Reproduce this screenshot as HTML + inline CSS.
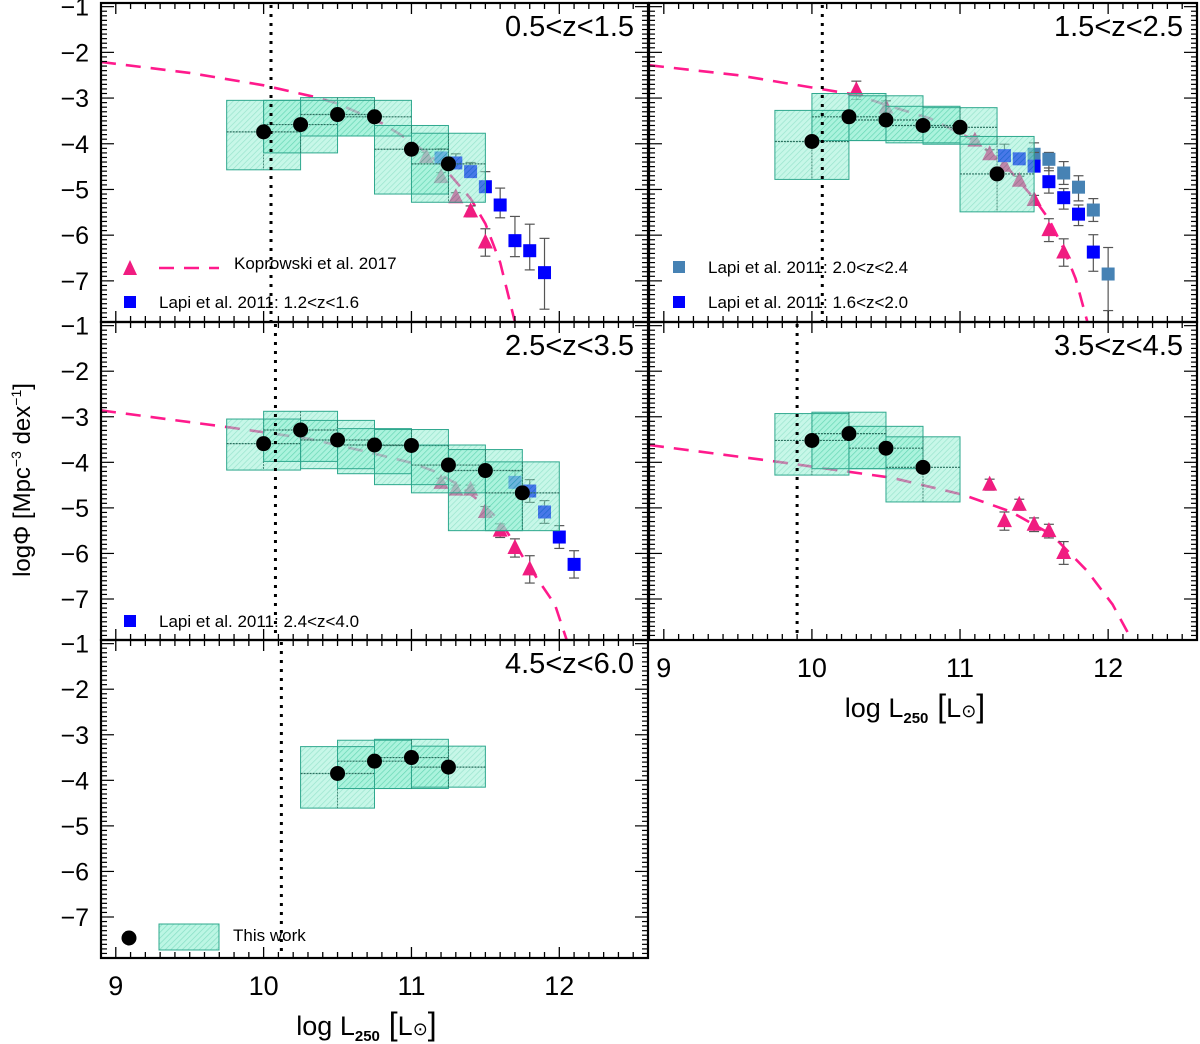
<!DOCTYPE html>
<html><head><meta charset="utf-8"><style>
html,body{margin:0;padding:0;background:#fff;}
svg{display:block;font-family:"Liberation Sans","DejaVu Sans",sans-serif;}
</style></head><body>
<svg id="chart" width="1200" height="1044" viewBox="0 0 1200 1044" xmlns="http://www.w3.org/2000/svg">
<defs>
<pattern id="hatch" patternUnits="userSpaceOnUse" width="4" height="4" patternTransform="rotate(45)">
<rect width="4" height="4" fill="#8ff0d2"/>
<line x1="0" y1="0" x2="0" y2="4" stroke="#35c99c" stroke-width="1.4"/>
</pattern>
</defs>
<g id="root"></g>
</svg>
<script>
// ===== data =====
const xTicks = [9,10,11,12];
const yTicks = [-1,-2,-3,-4,-5,-6,-7];
const boxCentersP1 = [10,10.25,10.5,10.75,11,11.25];
const circlesP1 = [-3.74,-3.58,-3.36,-3.41,-4.12,-4.44];
const boxHiP1 = [-3.05,-3.05,-2.99,-3.05,-3.60,-3.77];
const boxLoP1 = [-4.57,-4.20,-3.83,-3.83,-5.10,-5.28];
const triXP1 = [11.1,11.2,11.3,11.4,11.5];
const triYP1 = [-4.29,-4.73,-5.17,-5.48,-6.16];
const triErrP1 = [0.1,0.1,0.1,0.12,0.3];
const sqXP1 = [11.2,11.3,11.4,11.5,11.6,11.7,11.8,11.9];
const sqYP1 = [-4.31,-4.42,-4.61,-4.94,-5.34,-6.12,-6.34,-6.82];
const sqUpP1 = [0.2,0.2,0.2,0.33,0.37,0.53,0.58,0.75];
const sqDnP1 = [0.1,0.1,0.1,0.1,0.28,0.35,0.42,0.8];
const kopXP1 = [8.9,9.5,10.0,10.35,10.5,10.8,11.0,11.2,11.4,11.5,11.6,11.7];
const kopYP1 = [-2.21,-2.45,-2.72,-2.98,-3.12,-3.55,-3.95,-4.45,-5.2,-5.75,-6.6,-7.9];

const boxCentersP2 = [10,10.25,10.5,10.75,11,11.25];
const circlesP2 = [-3.95,-3.41,-3.48,-3.60,-3.64,-4.66];
const boxHiP2 = [-3.27,-2.90,-2.95,-3.18,-3.21,-3.84];
const boxLoP2 = [-4.78,-3.93,-3.93,-3.98,-4.01,-5.49];
const triXP2 = [10.3,10.5,11.1,11.2,11.3,11.4,11.5,11.6,11.7];
const triYP2 = [-2.83,-3.21,-3.93,-4.23,-4.48,-4.81,-5.23,-5.89,-6.38];
const triErrP2 = [0.2,0.15,0.1,0.1,0.1,0.1,0.1,0.25,0.3];
const sqXP2a = [11.5,11.6,11.7,11.8,11.9,12.0];
const sqYP2a = [-4.23,-4.34,-4.64,-4.95,-5.45,-6.85];
const sqUpP2a = [0.25,0.15,0.25,0.25,0.25,0.58];
const sqDnP2a = [0.25,0.25,0.25,0.3,0.25,0.8];
const sqXP2b = [11.3,11.4,11.5,11.6,11.7,11.8,11.9];
const sqYP2b = [-4.26,-4.33,-4.49,-4.83,-5.18,-5.54,-6.37];
const sqUpP2b = [0.25,0.1,0.3,0.3,0.2,0.2,0.38];
const sqDnP2b = [0.1,0.1,0.1,0.25,0.25,0.25,0.42];
const kopXP2 = [8.9,9.5,10.0,10.3,10.5,10.8,11.1,11.3,11.5,11.6,11.7,11.78,11.86];
const kopYP2 = [-2.28,-2.5,-2.77,-2.93,-3.15,-3.45,-3.93,-4.45,-5.2,-5.65,-6.3,-6.95,-7.9];

const boxCentersP3 = [10,10.25,10.5,10.75,11,11.25,11.5,11.75];
const circlesP3 = [-3.59,-3.29,-3.51,-3.62,-3.63,-4.06,-4.18,-4.67];
const boxHiP3 = [-3.05,-2.88,-3.08,-3.26,-3.28,-3.62,-3.72,-3.99];
const boxLoP3 = [-4.17,-3.98,-4.14,-4.25,-4.49,-4.67,-5.50,-5.50];
const triXP3 = [11.2,11.3,11.4,11.5,11.6,11.7,11.8];
const triYP3 = [-4.45,-4.6,-4.6,-5.09,-5.5,-5.88,-6.35];
const triErrP3 = [0.1,0.1,0.1,0.12,0.15,0.2,0.3];
const sqXP3 = [11.7,11.8,11.9,12.0,12.1];
const sqYP3 = [-4.44,-4.63,-5.09,-5.64,-6.24];
const sqUpP3 = [0.25,0.25,0.25,0.25,0.3];
const sqDnP3 = [0.1,0.25,0.25,0.25,0.3];
const kopXP3 = [8.9,9.76,10.3,10.66,11.0,11.15,11.31,11.46,11.6,11.8,11.97,12.05];
const kopYP3 = [-2.86,-3.23,-3.48,-3.74,-4.01,-4.19,-4.48,-4.85,-5.29,-6.31,-7.12,-7.9];

const boxCentersP4 = [10,10.25,10.5,10.75];
const circlesP4 = [-3.52,-3.37,-3.69,-4.11];
const boxHiP4 = [-2.93,-2.90,-3.21,-3.44];
const boxLoP4 = [-4.28,-4.14,-4.14,-4.87];
const triXP4 = [11.2,11.3,11.4,11.5,11.6,11.7];
const triYP4 = [-4.49,-5.29,-4.93,-5.37,-5.51,-5.99];
const triErrP4 = [0.12,0.2,0.12,0.15,0.15,0.25];
const kopXP4 = [8.9,9.75,10.54,11.02,11.34,11.62,11.86,12.03,12.16];
const kopYP4 = [-3.62,-3.98,-4.34,-4.71,-5.08,-5.59,-6.39,-7.12,-7.9];

const boxCentersP5 = [10.5,10.75,11,11.25];
const circlesP5 = [-3.85,-3.58,-3.50,-3.71];
const boxHiP5 = [-3.26,-3.12,-3.10,-3.25];
const boxLoP5 = [-4.61,-4.18,-4.18,-4.15];

const limitX = [10.05,10.07,10.08,9.9,10.12];
const panelTitles = ["0.5<z<1.5","1.5<z<2.5","2.5<z<3.5","3.5<z<4.5","4.5<z<6.0"];

// ===== drawing =====
const NS = "http://www.w3.org/2000/svg";
const root = document.getElementById('root');
function mk(tag, attrs, parent){
  const e = document.createElementNS(NS, tag);
  for (const k in attrs) e.setAttribute(k, attrs[k]);
  (parent||root).appendChild(e);
  return e;
}
const XMIN=8.9, XMAX=12.6, YMIN=-7.9, YMAX=-0.92;
const geoms = [
  {l:101,r:648,t:3,b:322},
  {l:649,r:1197,t:3,b:322},
  {l:101,r:648,t:322,b:640},
  {l:649,r:1197,t:322,b:640},
  {l:101,r:648,t:640,b:958}
];
function sx(g,v){return g.l+(v-XMIN)/(XMAX-XMIN)*(g.r-g.l);}
function sy(g,v){return g.t+(YMAX-v)/(YMAX-YMIN)*(g.b-g.t);}

function kop(g, xs, ys, G){
  let d='';
  xs.forEach((x,i)=>{d+=(i?'L':'M')+sx(g,x).toFixed(1)+' '+Math.min(sy(g,ys[i]),g.b).toFixed(1)+' ';});
  const p = mk('path',{d:d,fill:'none',stroke:'#ff1a8c','stroke-width':2.6,'stroke-dasharray':'15,10'},G);
  
  
}
function errbar(g,x,y,up,dn,G){
  const X=sx(g,x);
  mk('line',{x1:X,x2:X,y1:sy(g,y+up),y2:sy(g,y-dn),stroke:'#555','stroke-width':1.2},G);
  mk('line',{x1:X-5,x2:X+5,y1:sy(g,y+up),y2:sy(g,y+up),stroke:'#555','stroke-width':1.2},G);
  mk('line',{x1:X-5,x2:X+5,y1:sy(g,y-dn),y2:sy(g,y-dn),stroke:'#555','stroke-width':1.2},G);
}
function tris(g,xs,ys,errs,G){
  xs.forEach((x,i)=>{
    errbar(g,x,ys[i],errs[i],errs[i],G);
    const X=sx(g,x),Y=sy(g,ys[i]);
    const t = mk('polygon',{points:`${X},${Y-9} ${X-7.5},${Y+6} ${X+7.5},${Y+6}`,fill:'#f01c80'},G);
    
    
  });
}
function sqs(g,xs,ys,up,dn,color,name,G){
  xs.forEach((x,i)=>{
    errbar(g,x,ys[i],up[i],dn[i],G);
    const X=sx(g,x),Y=sy(g,ys[i]);
    const s = mk('rect',{x:X-6.5,y:Y-6.5,width:13,height:13,fill:color},G);
    
    
  });
}
function boxes(g,cs,hi,lo,vals,G){
  cs.forEach((c,i)=>{
    const b = mk('rect',{x:sx(g,c-0.25),y:sy(g,hi[i]),width:sx(g,c+0.25)-sx(g,c-0.25),height:sy(g,lo[i])-sy(g,hi[i]),fill:'url(#hatch)','fill-opacity':0.5},G);
    
    
  });
  cs.forEach((c,i)=>{
    mk('rect',{x:sx(g,c-0.25),y:sy(g,hi[i]),width:sx(g,c+0.25)-sx(g,c-0.25),height:sy(g,lo[i])-sy(g,hi[i]),fill:'none',stroke:'#2fa88e','stroke-width':1},G);
    mk('line',{x1:sx(g,c-0.25),x2:sx(g,c+0.25),y1:sy(g,vals[i]),y2:sy(g,vals[i]),stroke:'#2a6f5e','stroke-width':1.2,'stroke-dasharray':'2,1'},G);
    mk('line',{x1:sx(g,c),x2:sx(g,c),y1:sy(g,hi[i]),y2:sy(g,lo[i]),stroke:'#2a6f5e','stroke-width':0.8,'stroke-dasharray':'2,1'},G);
  });
}
function circles(g,cs,vals,G){
  cs.forEach((c,i)=>{
    const e = mk('circle',{cx:sx(g,c),cy:sy(g,vals[i]),r:7.5,fill:'#000'},G);
    
    
  });
}
function frame(g,i,G){
  mk('rect',{x:g.l,y:g.t,width:g.r-g.l,height:g.b-g.t,fill:'none',stroke:'#000','stroke-width':2.2},G);
  for(let v=9;v<=12.6;v=Math.round((v+0.1)*10)/10){
    const X=sx(g,v); const major=Math.abs(v-Math.round(v))<1e-6;
    const L=major?11:6;
    mk('line',{x1:X,x2:X,y1:g.b,y2:g.b-L,stroke:'#000','stroke-width':1.3},G);
    mk('line',{x1:X,x2:X,y1:g.t,y2:g.t+L,stroke:'#000','stroke-width':1.3},G);
  }
  for(let v=-7.9;v<=-0.92;v=Math.round((v+0.1)*10)/10){
    const Y=sy(g,v); const major=Math.abs(v-Math.round(v))<1e-6;
    const L=major?13:6;
    mk('line',{x1:g.l,x2:g.l+L,y1:Y,y2:Y,stroke:'#000','stroke-width':1.2},G);
    mk('line',{x1:g.r,x2:g.r-L,y1:Y,y2:Y,stroke:'#000','stroke-width':1.2},G);
  }
  const lx=sx(g,limitX[i]);
  const d = mk('line',{x1:lx,x2:lx,y1:g.t+2,y2:g.b,stroke:'#000','stroke-width':3,'stroke-dasharray':'3,6'},G);
  
  
  const t = mk('text',{x:g.r-14,y:g.t+33,'text-anchor':'end','font-size':29,fill:'#000'},G);
  t.textContent = panelTitles[i];
  
  
}
function yLabels(g,G){
  yTicks.forEach(v=>{
    const t = mk('text',{x:g.l-12,y:sy(g,v)+9,'text-anchor':'end','font-size':25,fill:'#000'},G);
    t.textContent = '\u2212'+Math.abs(v);
    
    
  });
}
function xLabels(g,G){
  xTicks.forEach(v=>{
    const t = mk('text',{x:sx(g,v),y:g.b+37,'text-anchor':'middle','font-size':27,fill:'#000'},G);
    t.textContent = v;
    
    
  });
  const t = mk('text',{x:(g.l+g.r)/2-8,y:g.b+77,'text-anchor':'middle','font-size':27,fill:'#000'},G);
  t.innerHTML = 'log  L<tspan font-size="15" font-weight="bold" dy="6">250</tspan><tspan dy="-6" font-size="32"> [</tspan>L<tspan font-size="18">\u2299</tspan><tspan font-size="32">]</tspan>';
  
  
}
function legendText(x,y,s,G){
  const t = mk('text',{x:x,y:y,'font-size':17,fill:'#000'},G);
  t.textContent=s;
  
  
}
function panel(i){
  const G = mk('g',{});
  
  
  return G;
}

// Panel 1
let g=geoms[0], G=panel(0);
kop(g,kopXP1,kopYP1,G);
tris(g,triXP1,triYP1,triErrP1,G);
sqs(g,sqXP1,sqYP1,sqUpP1,sqDnP1,'#0000ff','lapi-point',G);
boxes(g,boxCentersP1,boxHiP1,boxLoP1,circlesP1,G);
circles(g,boxCentersP1,circlesP1,G);
frame(g,0,G); yLabels(g,G);
mk('polygon',{points:'130,260 123,275 137,275',fill:'#f01c80'},G);
mk('line',{x1:159,x2:219,y1:268,y2:268,stroke:'#ff1a8c','stroke-width':2.6,'stroke-dasharray':'15,10'},G);
legendText(234,269,'Koprowski et al. 2017',G);
mk('rect',{x:124,y:296,width:12,height:12,fill:'#0000ff'},G);
legendText(159,308,'Lapi et al. 2011: 1.2<z<1.6',G);

// Panel 2
g=geoms[1]; G=panel(1);
kop(g,kopXP2,kopYP2,G);
tris(g,triXP2,triYP2,triErrP2,G);
sqs(g,sqXP2a,sqYP2a,sqUpP2a,sqDnP2a,'#4682b4','lapi-high-z-point',G);
sqs(g,sqXP2b,sqYP2b,sqUpP2b,sqDnP2b,'#0000ff','lapi-low-z-point',G);
boxes(g,boxCentersP2,boxHiP2,boxLoP2,circlesP2,G);
circles(g,boxCentersP2,circlesP2,G);
frame(g,1,G);
mk('rect',{x:673,y:261,width:12,height:12,fill:'#4682b4'},G);
legendText(708,273,'Lapi et al. 2011: 2.0<z<2.4',G);
mk('rect',{x:673,y:296,width:12,height:12,fill:'#0000ff'},G);
legendText(708,308,'Lapi et al. 2011: 1.6<z<2.0',G);

// Panel 3
g=geoms[2]; G=panel(2);
kop(g,kopXP3,kopYP3,G);
tris(g,triXP3,triYP3,triErrP3,G);
sqs(g,sqXP3,sqYP3,sqUpP3,sqDnP3,'#0000ff','lapi-point',G);
boxes(g,boxCentersP3,boxHiP3,boxLoP3,circlesP3,G);
circles(g,boxCentersP3,circlesP3,G);
frame(g,2,G); yLabels(g,G);
mk('rect',{x:124,y:615,width:12,height:12,fill:'#0000ff'},G);
legendText(159,627,'Lapi et al. 2011: 2.4<z<4.0',G);

// Panel 4
g=geoms[3]; G=panel(3);
kop(g,kopXP4,kopYP4,G);
tris(g,triXP4,triYP4,triErrP4,G);
boxes(g,boxCentersP4,boxHiP4,boxLoP4,circlesP4,G);
circles(g,boxCentersP4,circlesP4,G);
frame(g,3,G); xLabels(g,G);

// Panel 5
g=geoms[4]; G=panel(4);
boxes(g,boxCentersP5,boxHiP5,boxLoP5,circlesP5,G);
circles(g,boxCentersP5,circlesP5,G);
frame(g,4,G); yLabels(g,G); xLabels(g,G);
mk('circle',{cx:129,cy:938,r:7.5,fill:'#000'},G);
mk('rect',{x:159,y:924,width:60,height:26,fill:'url(#hatch)','fill-opacity':0.6,stroke:'#2fa88e','stroke-width':1},G);
legendText(233,941,'This work',G);

// Y-axis title
const yt = mk('text',{x:0,y:0,'text-anchor':'middle','font-size':24,fill:'#000',transform:'translate(30,480) rotate(-90)'});
yt.innerHTML = 'logΦ  [Mpc<tspan font-size="14" dy="-9">\u22123</tspan><tspan dy="9"> dex</tspan><tspan font-size="14" dy="-9">\u22121</tspan><tspan dy="9">]</tspan>';


</script>
</body></html>
